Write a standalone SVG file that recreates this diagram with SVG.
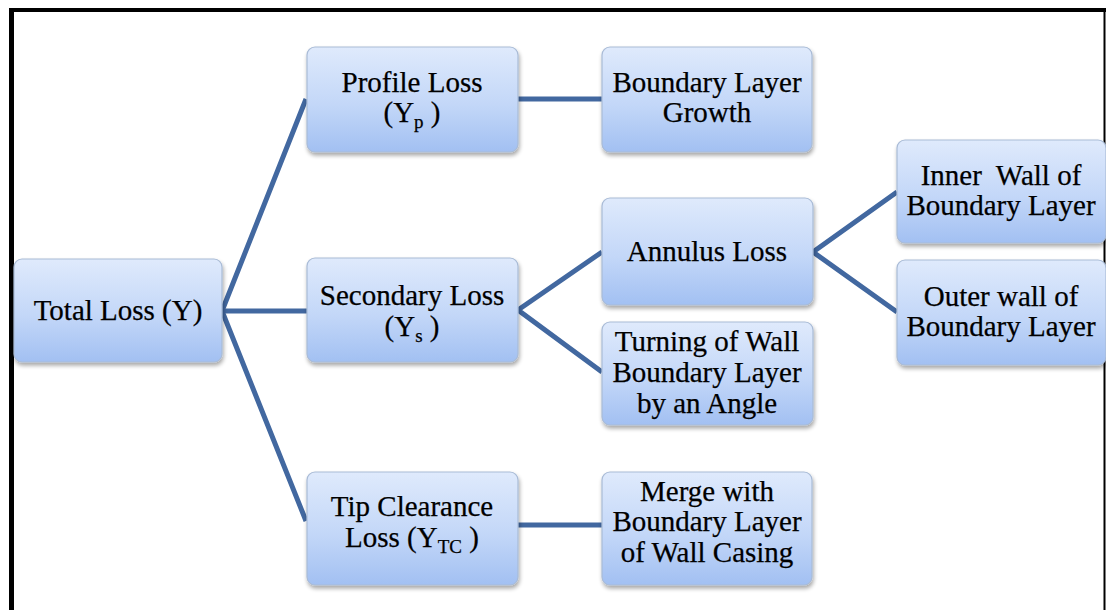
<svg xmlns="http://www.w3.org/2000/svg" width="1106" height="610" viewBox="0 0 1106 610">
<defs>
<linearGradient id="g" x1="0" y1="0" x2="0" y2="1">
<stop offset="0" stop-color="#dfeafc"/>
<stop offset="0.55" stop-color="#c3d7f8"/>
<stop offset="1" stop-color="#a2c0f2"/>
</linearGradient>
<filter id="sh" x="-10%" y="-10%" width="120%" height="130%">
<feGaussianBlur in="SourceAlpha" stdDeviation="2"/>
<feOffset dx="1" dy="3" result="b"/>
<feComponentTransfer><feFuncA type="linear" slope="0.35"/></feComponentTransfer>
<feMerge><feMergeNode/><feMergeNode in="SourceGraphic"/></feMerge>
</filter>
</defs>
<style>
.box{fill:url(#g);stroke:#a9bbd6;stroke-width:1.2;filter:url(#sh)}
.t{font-family:"Liberation Serif","Times New Roman",serif;font-size:29px;fill:#000;stroke:#000;stroke-width:0.25;text-anchor:middle}
.sub{font-size:19px}
.c{stroke:#4268a0;stroke-width:5;fill:none;stroke-linecap:butt;stroke-linejoin:miter}
</style>
<rect x="0" y="0" width="1106" height="610" fill="#fff"/>
<g id="frame">
<line x1="11.5" y1="10" x2="11.5" y2="610" stroke="#000" stroke-width="5"/>
<line x1="9" y1="10" x2="1106" y2="10" stroke="#000" stroke-width="4"/>
<line x1="1104.5" y1="10" x2="1104.5" y2="610" stroke="#000" stroke-width="2"/>
</g>
<g id="connectors">
<polyline class="c" points="306,99 222,311 306,521"/>
<line class="c" x1="222" y1="311" x2="307" y2="311"/>
<line class="c" x1="518" y1="99" x2="602" y2="99"/>
<polyline class="c" points="602,252 518,310 602,372"/>
<polyline class="c" points="897,192 813,252 897,312"/>
<line class="c" x1="517" y1="525" x2="603" y2="525"/>
</g>
<g id="total">
<rect class="box" x="14" y="259" width="208" height="103" rx="8"/>
<text class="t" x="118" y="320">Total Loss (Y)</text>
</g>
<g id="profile">
<rect class="box" x="307" y="47" width="211" height="105" rx="8"/>
<text class="t" x="412" y="92">Profile Loss</text>
<text class="t" x="412" y="122">(Y<tspan class="sub" dy="6">p</tspan><tspan dy="-6"> )</tspan></text>
</g>
<g id="blgrowth">
<rect class="box" x="602" y="47" width="210" height="105" rx="8"/>
<text class="t" x="707" y="92">Boundary Layer</text>
<text class="t" x="707" y="122">Growth</text>
</g>
<g id="secondary">
<rect class="box" x="307" y="258" width="211" height="104" rx="8"/>
<text class="t" x="412" y="305">Secondary Loss</text>
<text class="t" x="412" y="336">(Y<tspan class="sub" dy="6">s</tspan><tspan dy="-6"> )</tspan></text>
</g>
<g id="annulus">
<rect class="box" x="602" y="198" width="211" height="107" rx="8"/>
<text class="t" x="707" y="261">Annulus Loss</text>
</g>
<g id="turning">
<rect class="box" x="602" y="322" width="211" height="103" rx="8"/>
<text class="t" x="707" y="351">Turning of Wall</text>
<text class="t" x="707" y="382">Boundary Layer</text>
<text class="t" x="707" y="413">by an Angle</text>
</g>
<g id="inner">
<rect class="box" x="897" y="140" width="209" height="103" rx="8"/>
<text class="t" x="1001" y="185" style="white-space:pre" xml:space="preserve">Inner  Wall of</text>
<text class="t" x="1001" y="215">Boundary Layer</text>
</g>
<g id="outer">
<rect class="box" x="897" y="260" width="209" height="105" rx="8"/>
<text class="t" x="1001" y="306">Outer wall of</text>
<text class="t" x="1001" y="336">Boundary Layer</text>
</g>
<g id="tip">
<rect class="box" x="307" y="472" width="211" height="113" rx="8"/>
<text class="t" x="412" y="516">Tip Clearance</text>
<text class="t" x="412" y="547">Loss (Y<tspan class="sub" dy="6">TC</tspan><tspan dy="-6"> )</tspan></text>
</g>
<g id="merge">
<rect class="box" x="602" y="472" width="210" height="113" rx="8"/>
<text class="t" x="707" y="501">Merge with</text>
<text class="t" x="707" y="531">Boundary Layer</text>
<text class="t" x="707" y="562">of Wall Casing</text>
</g>
</svg>
